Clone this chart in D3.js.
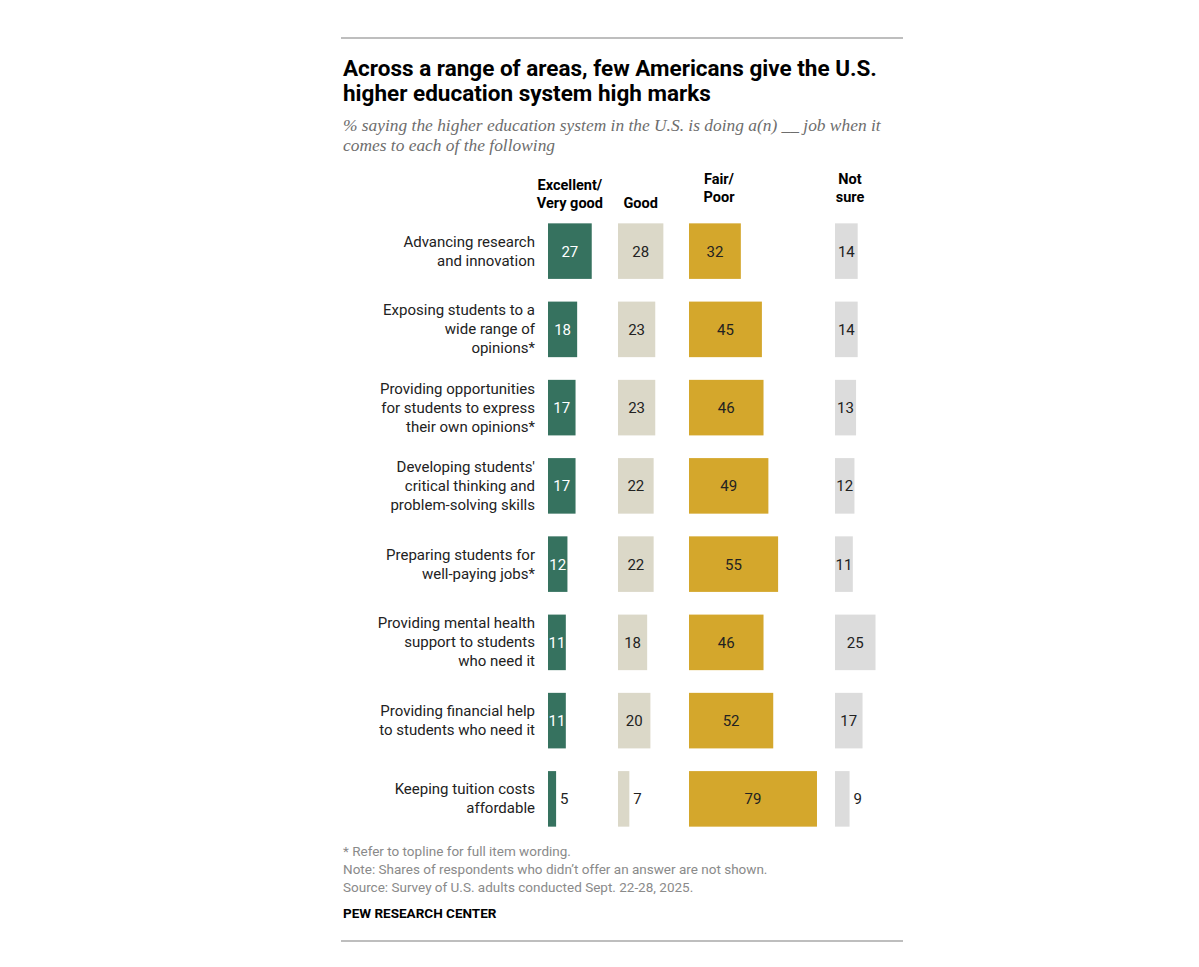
<!DOCTYPE html>
<html>
<head>
<meta charset="utf-8">
<script src="https://cdn.jsdelivr.net/npm/d3@7"></script>
<style>
  body { margin: 0; background: #fff; }
  text { font-family: Roboto, "Liberation Sans", sans-serif; }
</style>
</head>
<body>
<svg id="chart"></svg>
<script>
// Data
const items = [
  ["Advancing research", "and innovation"],
  ["Exposing students to a", "wide range of", "opinions*"],
  ["Providing opportunities", "for students to express", "their own opinions*"],
  ["Developing students'", "critical thinking and", "problem-solving skills"],
  ["Preparing students for", "well-paying jobs*"],
  ["Providing mental health", "support to students", "who need it"],
  ["Providing financial help", "to students who need it"],
  ["Keeping tuition costs", "affordable"]
];
const excellent = [27, 18, 17, 17, 12, 11, 11, 5];
const good      = [28, 23, 23, 22, 22, 18, 20, 7];
const fairPoor  = [32, 45, 46, 49, 55, 46, 52, 79];
const notSure   = [14, 14, 13, 12, 11, 25, 17, 9];

const columns = [
  { key: "excellent", header: ["Excellent/", "Very good"], values: excellent, color: "#36725f", text: "#fff", x0: 548 },
  { key: "good",      header: ["Good"],                    values: good,      color: "#dbd8c8", text: "#222", x0: 618 },
  { key: "fair",      header: ["Fair/", "Poor"],           values: fairPoor,  color: "#d4a72c", text: "#222", x0: 689 },
  { key: "notsure",   header: ["Not", "sure"],             values: notSure,   color: "#dcdcdc", text: "#222", x0: 835 }
];

const width = 1199, height = 967;
const svg = d3.select("#chart").attr("width", width).attr("height", height);

// Horizontal rules
svg.append("line").attr("x1", 341).attr("x2", 903).attr("y1", 38).attr("y2", 38)
  .attr("stroke", "#a8a8a8").attr("stroke-width", 1.5);
svg.append("line").attr("x1", 341).attr("x2", 903).attr("y1", 941).attr("y2", 941)
  .attr("stroke", "#a8a8a8").attr("stroke-width", 1.5);

// Title
const title = svg.append("text").attr("x", 343).attr("y", 76)
  .style("font-size", "22.5px").style("font-weight", 700).attr("fill", "#000");
title.append("tspan").attr("x", 343).text("Across a range of areas, few Americans give the U.S.");
title.append("tspan").attr("x", 343).attr("dy", 25).text("higher education system high marks");

// Subtitle
const sub = svg.append("text").attr("x", 343).attr("y", 131)
  .style("font-family", "'Liberation Serif', Georgia, serif")
  .style("font-style", "italic").style("font-size", "17.4px").attr("fill", "#6d6d6d");
sub.append("tspan").attr("x", 343).text("% saying the higher education system in the U.S. is doing a(n) __ job when it");
sub.append("tspan").attr("x", 343).attr("dy", 20).text("comes to each of the following");

// Scales
const x = d3.scaleLinear().domain([0, 100]).range([0, 162]);
const y = d3.scaleBand().domain(d3.range(items.length)).range([212, 838]).paddingInner(0.29).paddingOuter(0.145);

// Column headers
const headerBottom = 208;
columns.forEach(c => {
  const maxW = x(d3.max(c.values));
  const cx = c.key === "fair" ? c.x0 + 30 : c.key === "notsure" ? c.x0 + 15 : c.x0 + maxW / 2;
  const hdr = svg.append("text")
    .attr("text-anchor", "middle")
    .style("font-size", "14.5px").style("font-weight", 700).attr("fill", "#000");
  const lines = c.header;
  const offset = c.key === "fair" || c.key === "notsure" ? -6 : 0;
  lines.forEach((l, i) => {
    hdr.append("tspan").attr("x", cx)
      .attr("y", headerBottom + offset - (lines.length - 1 - i) * 18)
      .text(l);
  });
});

// Row labels
const rows = svg.append("g");
items.forEach((lines, i) => {
  const cy = y(i) + y.bandwidth() / 2;
  const t = rows.append("text").attr("text-anchor", "end")
    .style("font-size", "15px").attr("fill", "#222");
  lines.forEach((l, j) => {
    t.append("tspan").attr("x", 535)
      .attr("y", cy + 5 + (j - (lines.length - 1) / 2) * 19)
      .text(l);
  });
});

// Bars and value labels
columns.forEach(c => {
  const g = svg.append("g");
  g.selectAll("rect").data(c.values).join("rect")
    .attr("x", c.x0)
    .attr("y", (d, i) => y(i))
    .attr("width", d => x(d))
    .attr("height", y.bandwidth())
    .attr("fill", c.color);
  g.selectAll("text").data(c.values).join("text")
    .attr("x", d => d < 10 ? c.x0 + x(d) + 4 : c.x0 + x(d) / 2)
    .attr("y", (d, i) => y(i) + y.bandwidth() / 2 + 5.5)
    .attr("text-anchor", d => d < 10 ? "start" : "middle")
    .style("font-size", "15px")
    .attr("fill", d => d < 10 ? "#222" : c.text)
    .text(d => d);
});

// Footnotes
const notes = [
  "* Refer to topline for full item wording.",
  "Note: Shares of respondents who didn’t offer an answer are not shown.",
  "Source: Survey of U.S. adults conducted Sept. 22-28, 2025."
];
svg.append("g").selectAll("text").data(notes).join("text")
  .attr("x", 343).attr("y", (d, i) => 856 + i * 18)
  .style("font-size", "13.5px").attr("fill", "#8a8a8a")
  .text(d => d);

svg.append("text").attr("x", 343).attr("y", 918)
  .style("font-size", "13.5px").style("font-weight", 700).attr("fill", "#000")
  .text("PEW RESEARCH CENTER");
</script>
</body>
</html>
